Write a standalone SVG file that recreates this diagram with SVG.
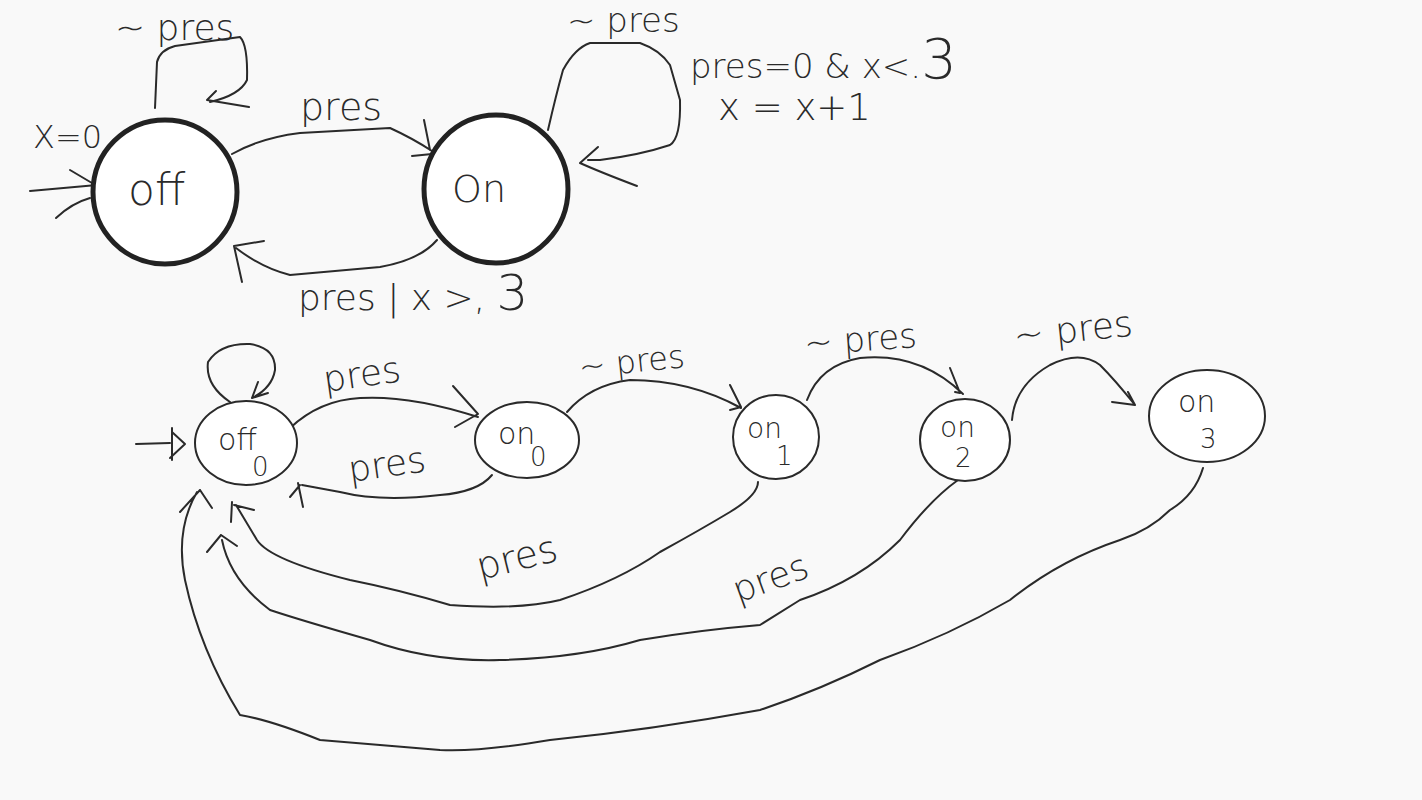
<svg xmlns="http://www.w3.org/2000/svg" width="1422" height="800" viewBox="0 0 1422 800">
<style>
.bg{fill:#f9f9f9}
.st{fill:#ffffff;stroke:#222;stroke-width:5}
.sn{fill:#ffffff;stroke:#2a2a2a;stroke-width:2}
.ln{fill:none;stroke:#2a2a2a;stroke-width:2;stroke-linecap:round;stroke-linejoin:round}
.t{font-family:"DejaVu Sans","Liberation Sans",sans-serif;fill:#2a2a2a;font-weight:300}
</style>
<rect class="bg" width="1422" height="800"/>
<g id="edges">
  <path class="ln" d="M30 191 L97 185 M70 170 L97 186 L92 196 M56 218 Q72 203 90 198"/>
  <path class="ln" d="M155 108 L157 62 Q160 50 175 46 L240 37 Q248 45 247 80 Q240 95 210 102 M207 100 L249 107 M207 100 L216 91"/>
  <path class="ln" d="M232 154 Q260 138 300 133 L390 128 Q412 138 432 151 M424 120 L430 150 M412 156 L432 154"/>
  <path class="ln" d="M437 240 Q420 260 380 267 L290 275 Q262 268 236 248 M234 246 L264 241 M234 246 L242 282"/>
  <path class="ln" d="M548 130 Q556 95 563 70 Q575 48 590 43 L640 43 Q660 50 670 65 L680 100 Q681 138 670 145 Q640 155 600 160 L588 160 M598 147 L580 163 Q600 172 637 186"/>
  <path class="ln" d="M136 444 L170 443 M172 428 L172 460 M172 432 L185 444 L170 458"/>
  <path class="ln" d="M230 402 Q205 385 208 362 Q220 343 250 344 Q276 348 275 370 Q272 388 252 398 M252 398 L258 382 M252 398 L268 393"/>
  <path class="ln" d="M290 428 Q320 400 360 398 Q410 395 478 417 M453 386 L478 414 L455 427"/>
  <path class="ln" d="M492 475 Q478 492 440 495 Q380 502 340 492 L302 485 M300 485 L290 497 M298 483 L303 507"/>
  <path class="ln" d="M567 412 Q590 385 630 380 Q690 380 741 408 M730 385 L741 407 L730 410"/>
  <path class="ln" d="M807 400 Q820 365 860 358 Q920 352 963 394 M950 368 L960 393 L955 392"/>
  <path class="ln" d="M1012 420 Q1015 385 1050 365 Q1080 350 1100 365 Q1115 380 1135 405 M1128 392 L1135 405 L1112 402"/>
  <path class="ln" d="M758 482 Q758 495 730 512 Q700 530 660 552 Q620 580 560 600 Q520 610 450 605 Q400 590 350 580 Q270 560 257 540 Q245 520 236 505 M232 502 L231 522 M234 505 L254 510"/>
  <path class="ln" d="M958 480 Q930 500 900 540 Q860 580 800 600 L760 625 Q700 630 640 640 Q580 658 500 660 Q430 662 370 640 Q300 620 270 610 Q230 580 222 540 M221 535 L207 552 M221 535 L237 546"/>
  <path class="ln" d="M1203 468 Q1195 495 1170 510 Q1150 530 1120 540 Q1060 560 1010 600 Q950 635 880 660 Q820 690 760 710 Q650 730 550 740 Q480 752 440 750 L320 740 Q270 720 240 715 Q200 650 185 580 Q175 530 197 492 M200 490 L180 512 M200 490 L212 508"/>
</g>
<g id="off">
  <circle class="st" cx="165" cy="192" r="72"/>
  <text class="t" x="128" y="205" font-size="44">off</text>
  <text class="t" x="33" y="148" font-size="32">X=0</text>
  <text class="t" x="115" y="40" font-size="36">~ pres</text>
</g>
<g id="on">
  <ellipse class="st" cx="496" cy="189" rx="72" ry="74"/>
  <text class="t" x="452" y="202" font-size="38">On</text>
  <text class="t" x="567" y="32" font-size="34">~ pres</text>
  <text class="t" x="690" y="78" font-size="34">pres=0 &amp; x&lt;.<tspan font-size="56">3</tspan></text>
  <text class="t" x="718" y="120" font-size="37">x = x+1</text>
</g>
<g id="top-labels">
  <text class="t" x="300" y="120" font-size="38">pres</text>
  <text class="t" x="298" y="310" font-size="36">pres | x &gt;, <tspan font-size="50">3</tspan></text>
</g>
<g id="off0">
  <ellipse class="sn" cx="246" cy="443" rx="51" ry="42"/>
  <text class="t" x="218" y="450" font-size="30">off</text>
  <text class="t" x="252" y="476" font-size="26">0</text>
</g>
<g id="on0">
  <ellipse class="sn" cx="527" cy="440" rx="52" ry="38"/>
  <text class="t" x="498" y="444" font-size="30">on</text>
  <text class="t" x="530" y="466" font-size="26">0</text>
</g>
<g id="on1">
  <ellipse class="sn" cx="776" cy="437" rx="43" ry="42"/>
  <text class="t" x="747" y="438" font-size="28">on</text>
  <text class="t" x="776" y="465" font-size="26">1</text>
</g>
<g id="on2">
  <ellipse class="sn" cx="965" cy="440" rx="45" ry="41"/>
  <text class="t" x="940" y="437" font-size="28">on</text>
  <text class="t" x="955" y="467" font-size="26">2</text>
</g>
<g id="on3">
  <ellipse class="sn" cx="1207" cy="416" rx="58" ry="46"/>
  <text class="t" x="1178" y="412" font-size="30">on</text>
  <text class="t" x="1200" y="448" font-size="26">3</text>
</g>
<g id="bottom-labels">
  <text class="t" x="325" y="392" font-size="36" transform="rotate(-8 325 392)">pres</text>
  <text class="t" x="350" y="482" font-size="36" transform="rotate(-8 350 482)">pres</text>
  <text class="t" x="580" y="378" font-size="32" transform="rotate(-6 580 378)">~ pres</text>
  <text class="t" x="805" y="355" font-size="34" transform="rotate(-4 805 355)">~ pres</text>
  <text class="t" x="1015" y="348" font-size="36" transform="rotate(-6 1015 348)">~ pres</text>
  <text class="t" x="480" y="580" font-size="38" transform="rotate(-14 480 580)">pres</text>
  <text class="t" x="738" y="603" font-size="36" transform="rotate(-20 738 603)">pres</text>
</g>
</svg>
